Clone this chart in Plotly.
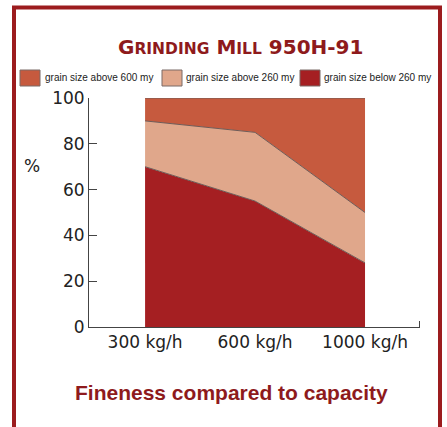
import plotly.graph_objects as go

# Throughput categories and share of each grain-size fraction (%)
capacity = ["300 kg/h", "600 kg/h", "1000 kg/h"]
below_260 = [70, 55, 28]
above_260 = [20, 30, 22]
above_600 = [10, 15, 50]
series_names = ["grain size above 600 my", "grain size above 260 my", "grain size below 260 my"]
y_ticks = [0, 20, 40, 60, 80, 100]

W, H = 447, 427
C_600 = "#c65a3e"
C_260 = "#e0a78b"
C_BELOW = "#a51f22"
EDGE = "#6e5c58"
DARK_RED = "#8e1a1c"

def px(x):
    return x / W

def py(y):
    return 1 - y / H

fig = go.Figure()
for name, vals, col in [
    (series_names[2], below_260, C_BELOW),
    (series_names[1], above_260, C_260),
    (series_names[0], above_600, C_600),
]:
    fig.add_trace(go.Scatter(
        x=capacity, y=vals, name=name, stackgroup="grain", mode="lines",
        line=dict(color=EDGE, width=1), fillcolor=col, showlegend=False,
    ))

shapes = []
# outer frame
shapes.append(dict(type="rect", xref="paper", yref="paper",
                   x0=px(14), x1=px(440), y0=py(7.5), y1=py(440),
                   line=dict(color="#9c1c1e", width=4), fillcolor="rgba(0,0,0,0)"))
# x-axis baseline end tick
shapes.append(dict(type="line", xref="paper", yref="paper",
                   x0=px(419.5), x1=px(419.5), y0=py(327), y1=py(321),
                   line=dict(color="#444", width=1)))

# legend swatches and labels
legend_items = [
    (20, 43, series_names[0], C_600),
    (162, 184, series_names[1], C_260),
    (300, 322, series_names[2], C_BELOW),
]
annotations = []
for sx, tx, label, col in legend_items:
    shapes.append(dict(type="rect", xref="paper", yref="paper",
                       x0=px(sx), x1=px(sx + 20), y0=py(86), y1=py(70),
                       line=dict(color="#7a6a66", width=1), fillcolor=col))
    annotations.append(dict(xref="paper", yref="paper", x=px(tx), y=py(78),
                            xanchor="left", yanchor="middle", showarrow=False,
                            text=label,
                            font=dict(family="Liberation Sans", size=10, color="#222")))

# chart title in small caps
big, small = 20, 15.5
title = (f"G<span style='font-size:{small}px'>RINDING</span> "
         f"M<span style='font-size:{small}px'>ILL</span> 950H-91")
annotations.append(dict(xref="paper", yref="paper", x=px(240), y=py(47),
                        xanchor="center", yanchor="middle", showarrow=False,
                        text=f"<b>{title}</b>",
                        font=dict(family="DejaVu Sans", size=big, color=DARK_RED)))
# y-axis unit
annotations.append(dict(xref="paper", yref="paper", x=px(32), y=py(166),
                        xanchor="center", yanchor="middle", showarrow=False,
                        text="%", font=dict(family="DejaVu Sans", size=17, color="#222")))
# caption
annotations.append(dict(xref="paper", yref="paper", x=px(232), y=py(392),
                        xanchor="center", yanchor="middle", showarrow=False,
                        text="<b>Fineness compared to capacity</b>",
                        font=dict(family="Liberation Sans", size=21, color=DARK_RED)))

fig.update_layout(
    width=W, height=H,
    margin=dict(l=0, r=0, t=0, b=0),
    paper_bgcolor="white", plot_bgcolor="rgba(0,0,0,0)",
    showlegend=False,
    shapes=shapes, annotations=annotations,
    xaxis=dict(domain=[px(89), px(420)], range=[-0.51, 2.5],
               showgrid=False, zeroline=False, showline=True, linecolor="#444", linewidth=1,
               ticks="", tickfont=dict(family="DejaVu Sans", size=17, color="#222"),
               automargin=False),
    yaxis=dict(domain=[py(327), py(98)], range=[0, 100], tickvals=y_ticks,
               showgrid=False, zeroline=False, showline=True, linecolor="#444", linewidth=1,
               ticks="inside", ticklen=8, tickcolor="#444",
               tickfont=dict(family="DejaVu Sans", size=17, color="#222"),
               automargin=False),
)

fig.write_html("out.html")
